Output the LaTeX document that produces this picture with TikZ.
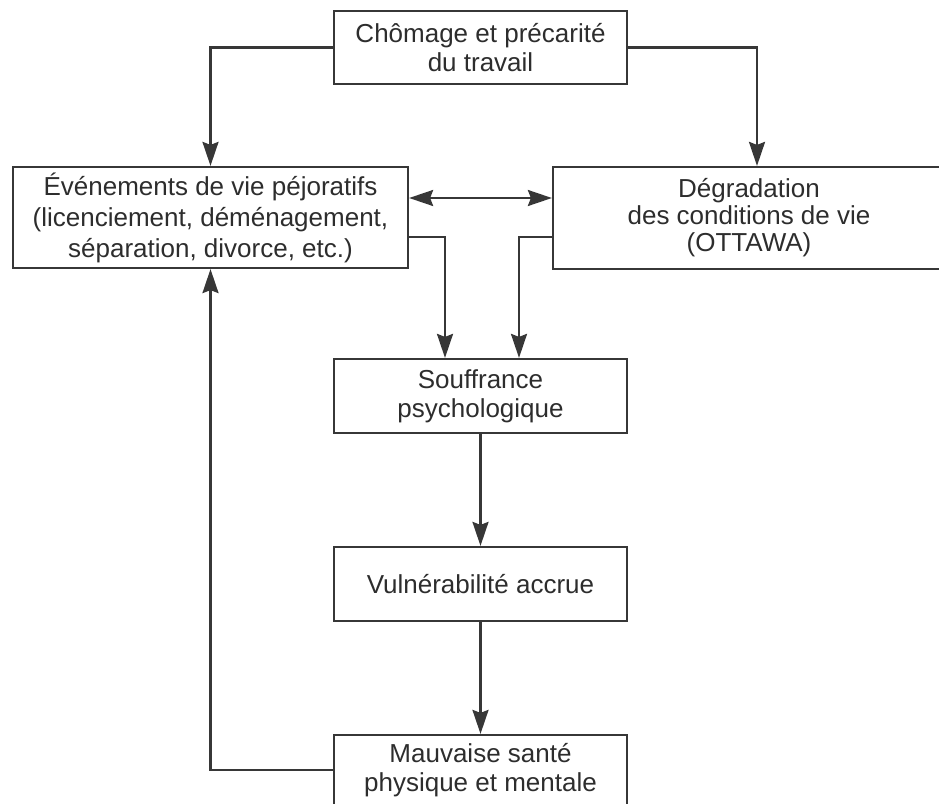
\documentclass[tikz,border=0pt]{standalone}
\usepackage{fontspec}
\setmainfont{Liberation Sans}
\usetikzlibrary{arrows.meta,positioning,calc}
\definecolor{boxline}{RGB}{55,55,55}
\definecolor{inktext}{RGB}{45,45,45}
\tikzset{
  block/.style={draw=boxline, rectangle, line width=2.2pt, inner sep=0pt,
                align=center, text=inktext, minimum width=293pt, minimum height=74pt,
                font=\fontsize{26}{29}\selectfont},
  wideblock/.style={block, minimum width=395pt, minimum height=101pt,
                    font=\fontsize{26}{31}\selectfont},
  arrow/.style={-{Stealth[length=24pt, width=16pt, inset=3pt]}, line width=2.4pt, draw=boxline},
  twoarrow/.style={arrow, {Stealth[length=24pt, width=16pt, inset=3pt]}-{Stealth[length=24pt, width=16pt, inset=3pt]}},
}

\begin{document}
\begin{tikzpicture}[x=1pt, y=-1pt]
\useasboundingbox (0,0) rectangle (939,803);

% ================= top: cause =================
\node[block, minimum height=73pt] (chomage) at (480.5,47.5)
  {Chômage et précarité\\du travail};

% ================= middle row =================
\node[wideblock] (evts) at (210.5,217.5)
  {Événements de vie péjoratifs\\(licenciement, déménagement,\\séparation, divorce, etc.)};
\node[wideblock, minimum width=392pt, minimum height=102pt,
      font=\fontsize{26}{27}\selectfont] (degrad) at (749,218)
  {Dégradation\\des conditions de vie\\(OTTAWA)};

% ================= chain downwards =================
\node[block] (souffr) at (480.5,396) {Souffrance\\psychologique};
\node[block] (vulner) at (480.5,584) {Vulnérabilité accrue};
\node[block, minimum height=70pt] (sante) at (480.5,770)
  {Mauvaise santé\\physique et mentale};

% ================= connectors =================
\draw[arrow] (chomage.west) -| (evts.north);
\draw[arrow] (chomage.east) -| ([xshift=8pt]degrad.north);
\draw[twoarrow] ([yshift=19.5pt]evts.east) -- ([yshift=19.5pt]evts.east -| degrad.west);
% both middle boxes feed the suffering box
\draw[arrow] ([yshift=-19.5pt]evts.east) -| ([xshift=-35.5pt]souffr.north);
\draw[arrow] ([yshift=-19pt]degrad.west) -| ([xshift=38.5pt]souffr.north);
\draw[arrow] (souffr) -- (vulner);
\draw[arrow] (vulner) -- (sante);
% loop back to the life events
\draw[arrow] (sante.west) -| (evts.south);

\end{tikzpicture}
\end{document}
